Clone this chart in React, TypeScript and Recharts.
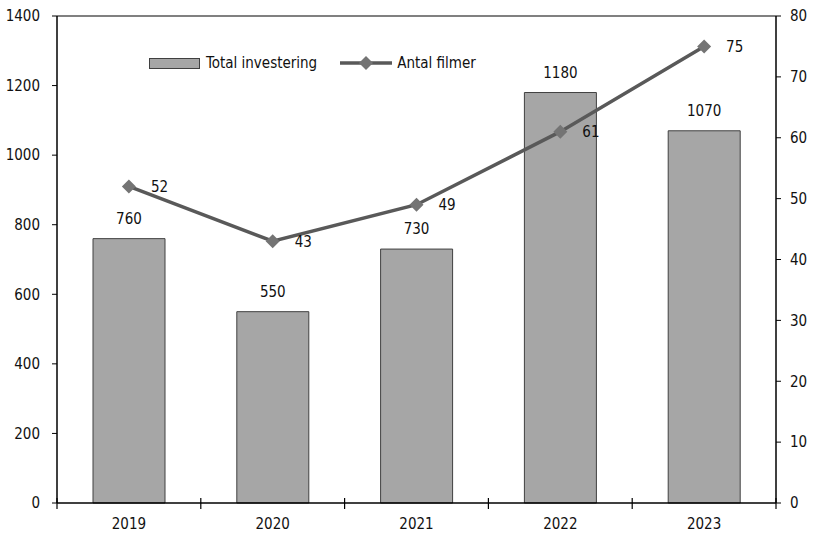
import { Bar, ComposedChart, LabelList, Line, ReferenceLine, XAxis, YAxis } from "recharts";

const years = ["2019", "2020", "2021", "2022", "2023"];
const investment = [760, 550, 730, 1180, 1070];
const films = [52, 43, 49, 61, 75];
const leftTicks = [0, 200, 400, 600, 800, 1000, 1200, 1400];
const rightTicks = [0, 10, 20, 30, 40, 50, 60, 70, 80];
const frameTicks = [0, 0.5, 1, 1.5, 2, 2.5, 3, 3.5, 4, 4.5, 5];

// slot = category index centre, used by the frame axis that draws boundary ticks
const data = years.map((y, i) => ({ year: y, slot: i + 0.5, inv: investment[i], films: films[i] }));

const FONT = "'Liberation Sans Narrow', 'DejaVu Sans Condensed', sans-serif";
const FS = 15;

function Diamond(props: any) {
  const { cx, cy } = props;
  if (cx == null || cy == null) return null;
  const r = 7;
  return <path d={`M${cx},${cy - r}L${cx + r},${cy}L${cx},${cy + r}L${cx - r},${cy}Z`} fill="#747474" />;
}

function FrameTick(props: any) {
  const { x, y, payload } = props;
  const v = payload.value as number;
  if (Number.isInteger(v)) {
    return <line x1={x} x2={x} y1={y - 5} y2={y + 6} stroke="#000" strokeWidth={1.2} />;
  }
  const label = years[Math.floor(v)];
  return (
    <text x={x} y={y + 26} textAnchor="middle" fontSize={FS} fontFamily={FONT} fill="#111">
      {label}
    </text>
  );
}

function LegendBox() {
  return (
    <div
      style={{
        position: "absolute",
        left: 149,
        top: 54,
        display: "flex",
        alignItems: "center",
        fontFamily: FONT,
        fontSize: FS,
        color: "#111",
        lineHeight: "18px",
      }}
    >
      <span style={{ width: 49, height: 9, background: "#a6a6a6", border: "1px solid #404040", display: "inline-block" }} />
      <span style={{ marginLeft: 6 }}>Total investering</span>
      <svg width={54} height={16} style={{ marginLeft: 22 }}>
        <line x1={1} x2={53} y1={8} y2={8} stroke="#595959" strokeWidth={3.5} />
        <path d="M27,1L34,8L27,15L20,8Z" fill="#747474" />
      </svg>
      <span style={{ marginLeft: 4 }}>Antal filmer</span>
    </div>
  );
}

export default function App() {
  return (
    <div style={{ position: "absolute", left: 0, top: 0, width: 819, height: 534, background: "#fff" }}>
      <ComposedChart width={819} height={534} data={data} margin={{ top: 16, right: 0, bottom: 0, left: 0 }}>
        <XAxis dataKey="year" hide height={0} />
        <XAxis
          xAxisId="frame"
          dataKey="slot"
          type="number"
          domain={[0, 5]}
          allowDataOverflow
          ticks={frameTicks}
          height={31}
          tickSize={0}
          tickMargin={0}
          tickLine={false}
          interval={0}
          axisLine={{ stroke: "#000", strokeWidth: 1.5 }}
          tick={<FrameTick />}
        />
        <YAxis
          yAxisId="left"
          domain={[0, 1400]}
          ticks={leftTicks}
          width={57}
          tickSize={5}
          tickMargin={12}
          interval={0}
          axisLine={{ stroke: "#000", strokeWidth: 1.5 }}
          tickLine={{ stroke: "#000" }}
          tick={{ fontSize: FS, fontFamily: FONT, fill: "#111" }}
        />
        <YAxis
          yAxisId="right"
          orientation="right"
          domain={[0, 80]}
          ticks={rightTicks}
          width={43}
          tickSize={5}
          tickMargin={9}
          interval={0}
          axisLine={{ stroke: "#000", strokeWidth: 1.5 }}
          tickLine={{ stroke: "#000" }}
          tick={{ fontSize: FS, fontFamily: FONT, fill: "#111" }}
        />
        <ReferenceLine yAxisId="left" y={1400} stroke="#808080" strokeWidth={2} />
        <Bar
          yAxisId="left"
          dataKey="inv"
          fill="#a6a6a6"
          stroke="#404040"
          strokeWidth={1}
          barSize={72}
          isAnimationActive={false}
        >
          <LabelList dataKey="inv" position="top" offset={15} fontSize={FS} fontFamily={FONT} fill="#111" />
        </Bar>
        <Line
          yAxisId="right"
          dataKey="films"
          stroke="#595959"
          strokeWidth={3.5}
          dot={<Diamond />}
          activeDot={false}
          isAnimationActive={false}
        >
          <LabelList dataKey="films" position="right" offset={22} fontSize={FS} fontFamily={FONT} fill="#111" />
        </Line>
      </ComposedChart>
      <LegendBox />
    </div>
  );
}
